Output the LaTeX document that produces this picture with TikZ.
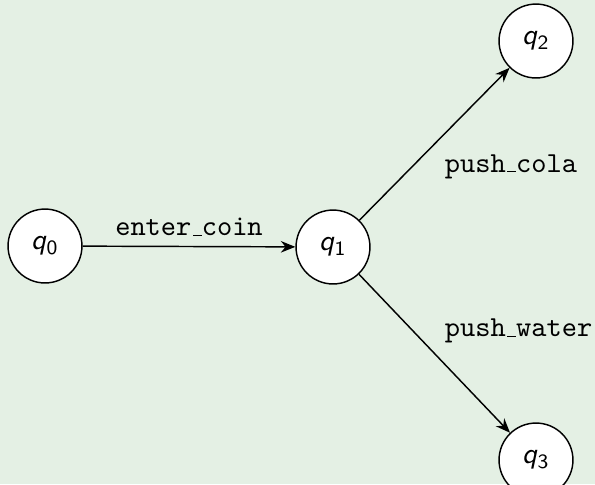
\documentclass[tikz,border=0pt]{standalone}
\usepackage{xcolor}
\usepackage{tikz}
\usetikzlibrary{arrows.meta, positioning}

\definecolor{bgcol}{HTML}{E4F0E4}

\tikzset{
    statenode/.style={circle, draw, fill=white, line width=0.5pt, minimum size=25.5pt, inner sep=0pt, font=\sffamily},
    trans/.style={-{Stealth[length=5pt, width=4pt]}, line width=0.5pt},
    lbl/.style={font=\ttfamily}
}
\newcommand{\qsub}[1]{\textit{q}\textsubscript{#1}}
% kurzer Unterstrich auf der Grundlinie
\newcommand{\us}{\kern.06em\vbox{\hrule width.3em}}

\begin{document}
\begin{tikzpicture}[x=0.345pt, y=-0.345pt]
    % Hintergrund
    \fill[bgcol] (0,0) rectangle (595,484);
    \useasboundingbox (0,0) rectangle (595,484);

    % Zustaende
    \node[statenode] (q0) at (45,246) {\qsub{0}};
    \node[statenode] (q1) at (333,247) {\qsub{1}};
    \node[statenode] (q2) at (536,41) {\qsub{2}};
    \node[statenode] (q3) at (536,460) {\qsub{3}};

    % Uebergaenge
    \draw[trans] (q0) -- node[lbl, above] {enter\us coin} (q1);
    \draw[trans] (q1) -- node[lbl, below right] {push\us cola} (q2);
    \draw[trans] (q1) -- node[lbl, above right] {push\us water} (q3);
\end{tikzpicture}
\end{document}
